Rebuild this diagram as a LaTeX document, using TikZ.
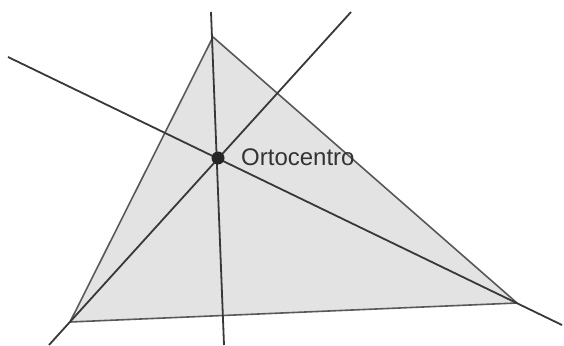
\documentclass[tikz,border=0pt]{standalone}
\usepackage{fontspec}
\setmainfont{Liberation Sans}
\begin{document}
\begin{tikzpicture}[x=1pt,y=-1pt,
  side/.style={draw=black!65, line width=1.6pt, line join=round},
  altitude/.style={draw=black!78, line width=1.8pt},
  lbl/.style={anchor=base west, inner sep=0pt, text=black!80, font=\fontsize{24}{26}\selectfont}]
\useasboundingbox (0,0) rectangle (564,345);
\coordinate (A) at (213,37);
\coordinate (B) at (70,322);
\coordinate (C) at (517,303);
\coordinate (H) at (218,158);
\coordinate (a1) at (211,12);
\coordinate (a2) at (224,345);
\coordinate (b1) at (351,12);
\coordinate (b2) at (49,345);
\coordinate (c1) at (8,57);
\coordinate (c2) at (562,325);
\fill[black!11] (A) -- (B) -- (C) -- cycle;
\draw[side] (A) -- (B) -- (C) -- cycle;
\draw[altitude] (a1) -- (a2);
\draw[altitude] (b1) -- (b2);
\draw[altitude] (c1) -- (c2);
\fill[black!85] (H) circle (6.5);
\node[lbl] (lab) at (241,165) {Ortocentro};
\end{tikzpicture}
\end{document}
